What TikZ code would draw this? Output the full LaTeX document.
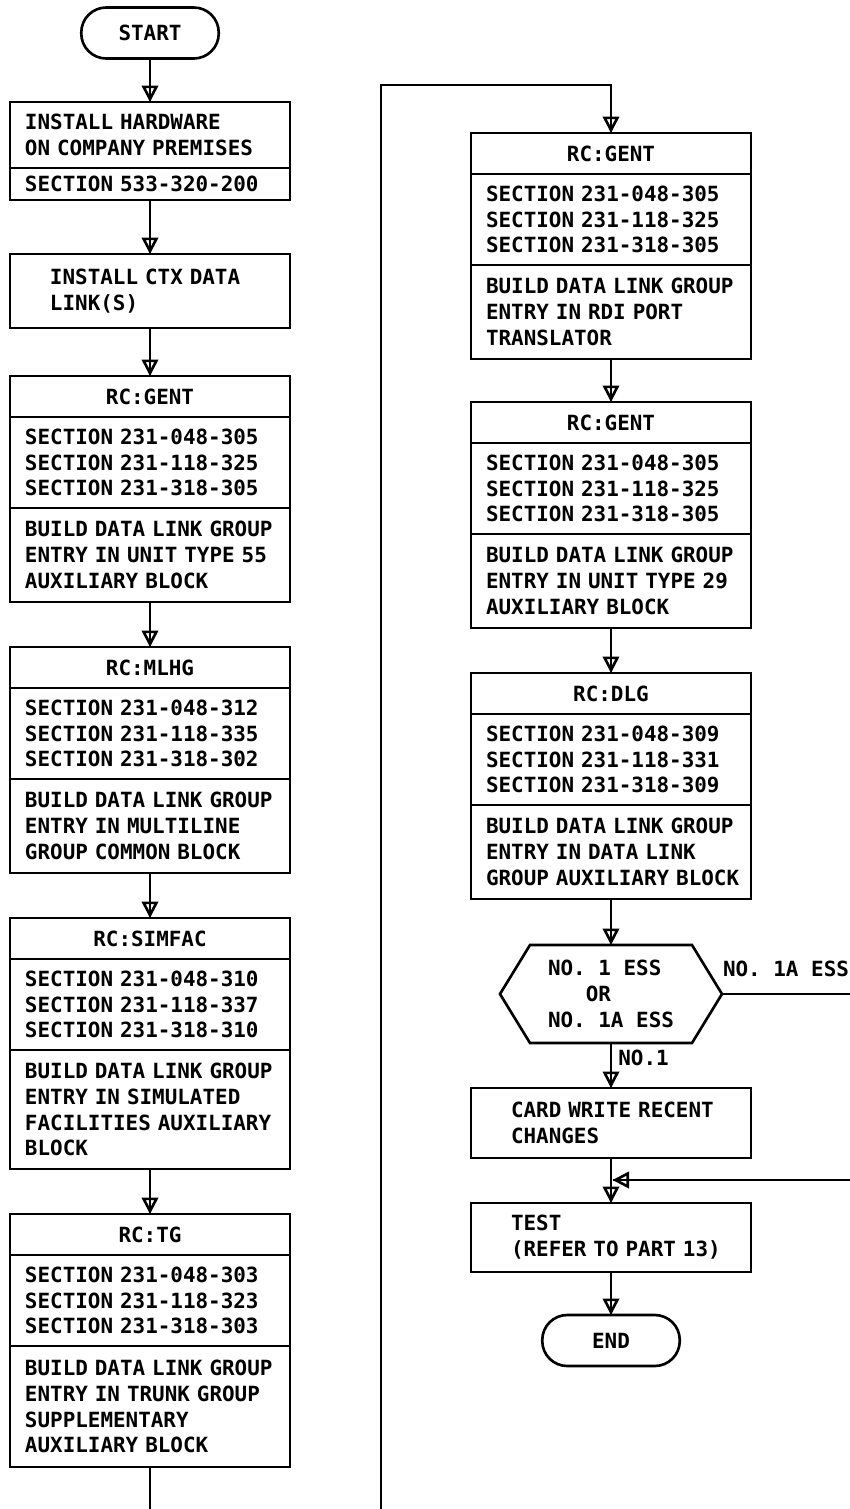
\documentclass[tikz,border=0pt]{standalone}
\usepackage{fontspec}
\newfontfamily\chartfont{DejaVu Sans Mono}
\usepackage{tikz}
\usetikzlibrary{arrows.meta,positioning,calc}

\begin{document}
\begin{tikzpicture}[
  chart/.style={font=\chartfont\bfseries\fontsize{11.9}{14.7}\selectfont},
  inset/.style={execute at begin node={\leftskip=#1}},
  box/.style={chart, draw, line width=1.5pt, outer sep=0pt, minimum width=5.6cm, text width=5.6cm, inner xsep=0pt, inner ysep=0pt},
  head/.style={box, align=center, minimum height=0.82cm},
  refs/.style={box, align=left, inset=0.3cm, minimum height=1.82cm},
  task/.style={box, align=left, inset=0.3cm, minimum height=#1},
  task/.default=1.88cm,
  stepbox/.style={box, align=left, inset=0.8cm, minimum height=#1},
  term/.style={chart, draw, line width=1.5pt, outer sep=0pt, rounded corners=0.5cm, minimum width=2.75cm, minimum height=1.02cm},
  decision/.style={chart, align=left, outer sep=0pt, inner sep=0pt, minimum width=4.44cm, minimum height=1.96cm},
  wire/.style={line width=1.5pt},
  flow/.style={wire, -{Triangle[open,length=3.3mm,width=3.3mm]}, postaction={draw,-}},
  tag/.style={chart, inner sep=0pt},
]
\path[use as bounding box, fill=white] (0,0) rectangle (17,-30.18);

% left column
\node[term] (start) at (3.0,-0.66) {START};
\node[task=1.32cm, anchor=north] (hw) at (3.0,-2.04) {INSTALL HARDWARE\\ON COMPANY PREMISES};
\node[task=0.64cm, below=0pt of hw] (hwRef) {SECTION 533-320-200};
\node[stepbox=1.48cm, anchor=north] (ctx) at (3.0,-5.08) {INSTALL CTX DATA\\LINK(S)};

\node[head, anchor=north] (gentA) at (3.0,-7.52) {RC:GENT};
\node[refs, below=0pt of gentA] (gentARef) {SECTION 231-048-305\\SECTION 231-118-325\\SECTION 231-318-305};
\node[task, below=0pt of gentARef] (gentAJob) {BUILD DATA LINK GROUP\\ENTRY IN UNIT TYPE 55\\AUXILIARY BLOCK};

\node[head, anchor=north] (mlhg) at (3.0,-12.94) {RC:MLHG};
\node[refs, below=0pt of mlhg] (mlhgRef) {SECTION 231-048-312\\SECTION 231-118-335\\SECTION 231-318-302};
\node[task, below=0pt of mlhgRef] (mlhgJob) {BUILD DATA LINK GROUP\\ENTRY IN MULTILINE\\GROUP COMMON BLOCK};

\node[head, anchor=north] (simfac) at (3.0,-18.36) {RC:SIMFAC};
\node[refs, below=0pt of simfac] (simfacRef) {SECTION 231-048-310\\SECTION 231-118-337\\SECTION 231-318-310};
\node[task=2.38cm, below=0pt of simfacRef] (simfacJob) {BUILD DATA LINK GROUP\\ENTRY IN SIMULATED\\FACILITIES AUXILIARY\\BLOCK};

\node[head, anchor=north] (tg) at (3.0,-24.28) {RC:TG};
\node[refs, below=0pt of tg] (tgRef) {SECTION 231-048-303\\SECTION 231-118-323\\SECTION 231-318-303};
\node[task=2.42cm, below=0pt of tgRef] (tgJob) {BUILD DATA LINK GROUP\\ENTRY IN TRUNK GROUP\\SUPPLEMENTARY\\AUXILIARY BLOCK};

% right column
\node[head, anchor=north] (gentB) at (12.22,-2.66) {RC:GENT};
\node[refs, below=0pt of gentB] (gentBRef) {SECTION 231-048-305\\SECTION 231-118-325\\SECTION 231-318-305};
\node[task, below=0pt of gentBRef] (gentBJob) {BUILD DATA LINK GROUP\\ENTRY IN RDI PORT\\TRANSLATOR};

\node[head, anchor=north] (gentC) at (12.22,-8.04) {RC:GENT};
\node[refs, below=0pt of gentC] (gentCRef) {SECTION 231-048-305\\SECTION 231-118-325\\SECTION 231-318-305};
\node[task, below=0pt of gentCRef] (gentCJob) {BUILD DATA LINK GROUP\\ENTRY IN UNIT TYPE 29\\AUXILIARY BLOCK};

\node[head, anchor=north] (dlg) at (12.22,-13.46) {RC:DLG};
\node[refs, below=0pt of dlg] (dlgRef) {SECTION 231-048-309\\SECTION 231-118-331\\SECTION 231-318-309};
\node[task, below=0pt of dlgRef] (dlgJob) {BUILD DATA LINK GROUP\\ENTRY IN DATA LINK\\GROUP AUXILIARY BLOCK};

\node[decision] (ess) at (12.22,-19.88) {NO. 1 ESS\\\hphantom{NO.}OR\\NO. 1A ESS};
\draw[wire] (ess.west) -- ([xshift=0.6cm]ess.north west) -- ([xshift=-0.6cm]ess.north east)
  -- (ess.east) -- ([xshift=-0.6cm]ess.south east) -- ([xshift=0.6cm]ess.south west) -- cycle;
\node[stepbox=1.4cm, anchor=north] (card) at (12.22,-21.76) {CARD WRITE RECENT\\CHANGES};
\node[stepbox=1.38cm, anchor=north] (test) at (12.22,-24.06) {TEST\\(REFER TO PART 13)};
\node[term] (stop) at (12.22,-26.81) {END};

% free ends at the cut edges
\coordinate (cutA) at (3.0,-30.18);
\coordinate (cutB) at (7.62,-30.18);
\coordinate (loopTop) at (7.62,-1.7);
\coordinate (edgeA) at (17,-19.88);
\coordinate (edgeB) at (17,-23.6);
\coordinate (merge) at (12.25,-23.6);

\draw[flow] (start.south) -- (hw.north);
\draw[flow] (hwRef.south) -- (ctx.north);
\draw[flow] (ctx.south) -- (gentA.north);
\draw[flow] (gentAJob.south) -- (mlhg.north);
\draw[flow] (mlhgJob.south) -- (simfac.north);
\draw[flow] (simfacJob.south) -- (tg.north);
\draw[wire] (tgJob.south) -- (cutA);
\draw[flow] (cutB) -- (loopTop) -| (gentB.north);
\draw[flow] (gentBJob.south) -- (gentC.north);
\draw[flow] (gentCJob.south) -- (dlg.north);
\draw[flow] (dlgJob.south) -- (ess.north);
\draw[wire] (ess.east) -- node[tag, above=0.32cm] {NO. 1A ESS} (edgeA);
\draw[flow] (ess.south) -- node[tag, right=0.12cm, pos=0.33] {NO.1} (card.north);
\draw[flow] (card.south) -- (test.north);
\draw[flow] (edgeB) -- (merge);
\draw[flow] (test.south) -- (stop.north);
\end{tikzpicture}
\end{document}
